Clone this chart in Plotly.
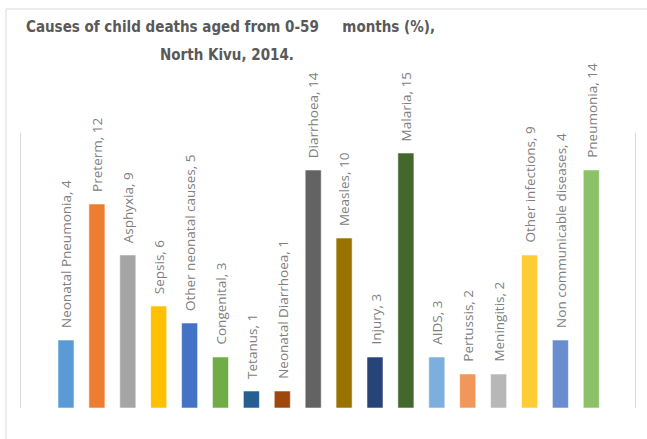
import plotly.graph_objects as go

categories = ["Neonatal Pneumonia", "Preterm", "Asphyxia", "Sepsis", "Other neonatal causes",
              "Congenital", "Tetanus", "Neonatal Diarrhoea", "Diarrhoea", "Measles", "Injury",
              "Malaria", "AIDS", "Pertussis", "Meningitis", "Other infections",
              "Non communicable diseases", "Pneumonia"]
values = [4, 12, 9, 6, 5, 3, 1, 1, 14, 10, 3, 15, 3, 2, 2, 9, 4, 14]
colors = ["#5B9BD5", "#ED7D31", "#A5A5A5", "#FFC000", "#4472C4", "#70AD47", "#255E91",
          "#9E480E", "#636363", "#997300", "#264478", "#43682B", "#7CAFDD", "#F1975A",
          "#B7B7B7", "#FFCD33", "#698ED0", "#8CC168"]
title_line1 = "Causes of child deaths aged from 0-59" + "\u00a0" * 5 + "months (%),"
title_line2 = "North Kivu, 2014."

W, H = 647, 439
L, R, T, B = 21, 12, 133, 31
pw, ph = W - L - R, H - T - B

def px(x):
    return (x - L) / pw

def py(y):
    return (H - B - y) / ph

idx = list(range(len(categories)))
fig = go.Figure()
fig.add_trace(go.Bar(
    x=idx, y=values, width=0.52,
    marker=dict(color=colors, line=dict(color="rgba(255,255,255,0.55)", width=1)),
    hoverinfo="skip",
))

annotations = []
for i, (c, v) in enumerate(zip(categories, values)):
    annotations.append(dict(
        x=i, y=v, xref="x", yref="y", text=f"{c}, {v}", showarrow=False,
        textangle=-90, xanchor="center", yanchor="bottom", yshift=10,
        font=dict(family="Open Sans", size=13.5, color="#808080"),
    ))

title_font = dict(family="DejaVu Sans Condensed", size=15, color="#595959")
annotations.append(dict(x=px(230), y=py(27), xref="paper", yref="paper", text="<b>" + title_line1 + "</b>",
                        showarrow=False, xanchor="center", yanchor="middle", font=title_font))
annotations.append(dict(x=px(227), y=py(55), xref="paper", yref="paper", text="<b>" + title_line2 + "</b>",
                        showarrow=False, xanchor="center", yanchor="middle", font=title_font))

shapes = [
    dict(type="line", xref="paper", yref="paper", x0=px(6), x1=px(6), y0=py(9), y1=py(H + 5),
         line=dict(color="#d9d9d9", width=1)),
    dict(type="line", xref="paper", yref="paper", x0=px(6), x1=px(W + 5), y0=py(9), y1=py(9),
         line=dict(color="#d9d9d9", width=1)),
]

slot = 30.9
x0 = -(66 - L) / slot
fig.update_layout(
    width=W, height=H,
    margin=dict(l=L, r=R, t=T, b=B, pad=0),
    paper_bgcolor="white", plot_bgcolor="white",
    showlegend=False,
    xaxis=dict(range=[x0, x0 + pw / slot], showticklabels=False, showgrid=False,
               zeroline=False, showline=False, ticks=""),
    yaxis=dict(range=[0, ph / 17.0], showticklabels=False, showgrid=False, zeroline=False,
               showline=True, mirror=True, linecolor="#d9d9d9", linewidth=1, ticks=""),
    annotations=annotations, shapes=shapes,
)
fig.write_html("out.html")
